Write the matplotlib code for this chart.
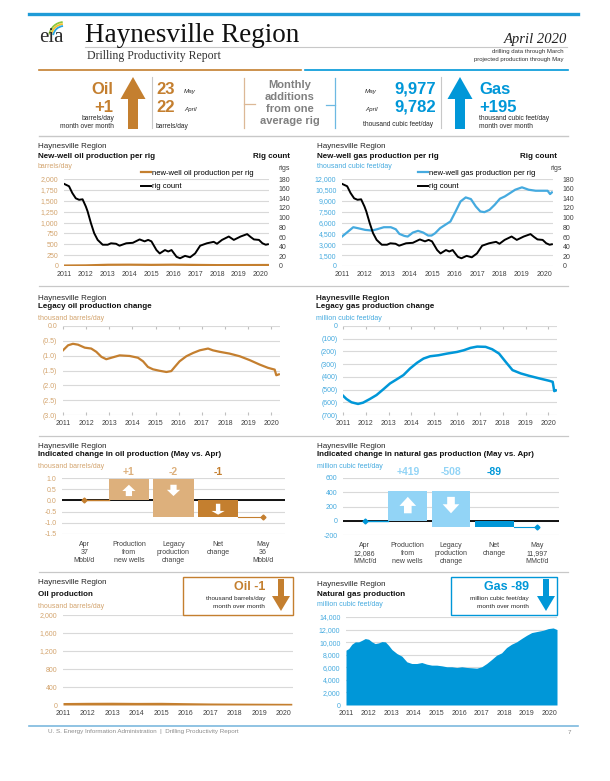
import matplotlib
matplotlib.use('Agg')
import matplotlib.pyplot as plt
from matplotlib.patches import Rectangle, Arc
from matplotlib.lines import Line2D

plt.rcParams['font.family'] = ['Liberation Sans', 'DejaVu Sans']

W, H = 610, 781

# ---------------- data ----------------
years = list(range(2011, 2021))

rig_years = [2011.00, 2011.23, 2011.38, 2011.54, 2011.69, 2011.85, 2012.00, 2012.08, 2012.23, 2012.38,
             2012.54, 2012.77, 2013.00, 2013.15, 2013.38, 2013.54, 2013.85, 2014.15, 2014.46, 2014.69,
             2014.85, 2015.00, 2015.23, 2015.38, 2015.62, 2015.77, 2015.92, 2016.15, 2016.31, 2016.54,
             2016.77, 2017.00, 2017.23, 2017.54, 2017.85, 2018.00, 2018.23, 2018.54, 2018.77, 2019.08,
             2019.38, 2019.54, 2019.69, 2019.92, 2020.08, 2020.23, 2020.33]
rig_count = [170, 165, 151, 140, 137, 138, 123, 113, 89, 68,
             54, 44, 44, 47, 46, 42, 47, 48, 55, 51,
             54, 51, 33, 26, 33, 30, 33, 19, 16, 21,
             18, 26, 42, 47, 50, 46, 54, 61, 54, 61,
             66, 60, 55, 54, 47, 44, 45]

oil_rig_years = [2011.0, 2012.0, 2013.0, 2014.0, 2015.0, 2016.0, 2017.0, 2018.0, 2019.0, 2020.33]
oil_per_rig = [10, 14, 28, 30, 26, 30, 25, 20, 21, 23]

gas_rig_years = [2011.00, 2011.27, 2011.50, 2011.73, 2012.03, 2012.33, 2012.56, 2012.86, 2013.17, 2013.39,
                 2013.55, 2013.77, 2013.92, 2014.15, 2014.38, 2014.61, 2014.83, 2014.98, 2015.14, 2015.36,
                 2015.59, 2015.82, 2016.05, 2016.27, 2016.50, 2016.73, 2016.95, 2017.15, 2017.33, 2017.56,
                 2017.79, 2018.02, 2018.24, 2018.47, 2018.70, 2019.00, 2019.30, 2019.61, 2019.91, 2020.14,
                 2020.25, 2020.33]
gas_per_rig = [4060, 4750, 5350, 5200, 4980, 4890, 5070, 5350, 5350, 5070,
               4430, 4150, 4060, 4610, 4850, 4610, 4200, 4200, 4520, 5215,
               5680, 6140, 7520, 8900, 9460, 9230, 8210, 7520, 7430, 7750,
               8450, 9280, 9600, 10060, 10520, 10850, 10520, 10380, 10380, 10380,
               9920, 10150]

legacy_oil_years = [2011.00, 2011.22, 2011.43, 2011.65, 2011.94, 2012.22, 2012.44, 2012.66, 2012.87, 2013.09,
                    2013.45, 2013.88, 2014.24, 2014.46, 2014.67, 2014.89, 2015.18, 2015.47, 2015.68, 2015.83,
                    2016.04, 2016.33, 2016.62, 2016.91, 2017.27, 2017.48, 2017.77, 2018.20, 2018.64, 2019.07,
                    2019.50, 2019.86, 2020.15, 2020.22, 2020.33]
legacy_oil = [-0.82, -0.65, -0.60, -0.63, -0.73, -0.76, -0.87, -1.04, -1.12, -1.07,
              -0.99, -1.01, -1.07, -1.19, -1.38, -1.46, -1.51, -1.55, -1.52, -1.38,
              -1.19, -1.02, -0.91, -0.82, -0.76, -0.82, -0.87, -0.93, -1.02, -1.15,
              -1.30, -1.41, -1.47, -1.66, -1.63]

legacy_gas_years = [2011.00, 2011.15, 2011.37, 2011.66, 2011.88, 2012.18, 2012.47, 2012.76, 2013.06, 2013.35,
                    2013.65, 2013.94, 2014.24, 2014.53, 2014.82, 2015.19, 2015.56, 2016.00, 2016.29, 2016.59,
                    2016.88, 2017.25, 2017.54, 2017.84, 2018.13, 2018.43, 2018.79, 2019.16, 2019.60, 2020.04,
                    2020.19, 2020.26, 2020.33]
legacy_gas = [-548, -574, -600, -613, -603, -574, -543, -499, -452, -420,
              -386, -334, -290, -256, -238, -230, -217, -204, -191, -172,
              -162, -164, -183, -217, -282, -347, -373, -392, -412, -431,
              -439, -512, -507]

oil_prod_years = [2011.0, 2012.0, 2013.0, 2014.0, 2015.0, 2016.0, 2017.0, 2018.0, 2019.0, 2020.33]
oil_prod = [55, 60, 62, 58, 60, 52, 45, 42, 40, 37]

gas_prod_years = [2011.00, 2011.12, 2011.26, 2011.41, 2011.56, 2011.71, 2011.85, 2012.00, 2012.15, 2012.29,
                  2012.44, 2012.59, 2012.74, 2012.88, 2013.03, 2013.25, 2013.47, 2013.69, 2013.91, 2014.13,
                  2014.35, 2014.57, 2014.79, 2015.01, 2015.24, 2015.46, 2015.68, 2015.90, 2016.12, 2016.34,
                  2016.56, 2016.78, 2017.00, 2017.22, 2017.44, 2017.66, 2017.88, 2018.10, 2018.32, 2018.54,
                  2018.76, 2018.99, 2019.21, 2019.50, 2019.72, 2019.94, 2020.16, 2020.33]
gas_prod = [8720, 8980, 9670, 10040, 10040, 10300, 10570, 10460, 10040, 9770,
            9880, 10090, 10040, 9510, 8820, 8190, 7770, 6870, 6600, 6600,
            6760, 6500, 6340, 6340, 6230, 6080, 6080, 5970, 6080, 5970,
            5920, 5860, 6080, 6600, 7240, 7920, 8290, 9140, 9670, 10040,
            10570, 11090, 11520, 11730, 11890, 12150, 12260, 12000]

oil_wf_labels = ['Apr\n37\nMbbl/d', 'Production\nfrom\nnew wells', 'Legacy\nproduction\nchange',
                 'Net\nchange', 'May\n36\nMbbl/d']
gas_wf_labels = ['Apr\n12,086\nMMcf/d', 'Production\nfrom\nnew wells', 'Legacy\nproduction\nchange',
                 'Net\nchange', 'May\n11,997\nMMcf/d']
oil_new, oil_legacy = 0.97, -1.72
gas_new, gas_legacy = 419, -508

# ---------------- colours ----------------
BROWN = '#c47f2f'
TAN = '#ddb07c'
TAN_TXT = '#d3a46e'
BLUE = '#0097d8'
LBLUE = '#92d4f6'
BLUE_TXT = '#45aadf'
GRID = '#d9d9d9'
DARK = '#404040'

fig = plt.figure(figsize=(W / 100, H / 100), dpi=100)


def px_axes(x0, y0, x1, y1):
    ax = fig.add_axes([x0 / W, 1 - y1 / H, (x1 - x0) / W, (y1 - y0) / H])
    ax.set_facecolor('none')
    for s in ax.spines.values():
        s.set_visible(False)
    ax.grid(axis='y', color=GRID, lw=0.8)
    ax.set_axisbelow(True)
    return ax


def time_axis(ax, xmax=2020.38):
    ax.set_xlim(2011, xmax)
    ax.set_xticks(years)
    ax.set_xticklabels([str(y) for y in years])
    ax.tick_params(axis='x', length=0, labelsize=5, labelcolor=DARK, pad=3.4)


def y_labels(ax, ticks, fmt, color):
    ax.set_yticks(ticks)
    ax.set_yticklabels([fmt(t) for t in ticks])
    ax.tick_params(axis='y', length=0, labelsize=5, labelcolor=color, pad=4)


def paren(v, dec):
    if v == 0:
        return f'{0:.{dec}f}'
    return f'({abs(v):,.{dec}f})'


# ---------- row 1: new-well production per rig ----------
ax = px_axes(64, 179, 269, 266)
time_axis(ax)
ax.set_ylim(0, 2000)
y_labels(ax, range(0, 2001, 250), lambda v: f'{v:,}', TAN_TXT)
l1, = ax.plot(oil_rig_years, oil_per_rig, color=BROWN, lw=1.6)
ax2 = ax.twinx()
ax2.set_ylim(0, 180)
for s in ax2.spines.values():
    s.set_visible(False)
ax2.set_yticks(range(0, 181, 20))
ax2.tick_params(axis='y', length=0, labelsize=5, labelcolor=DARK, pad=7)
l2, = ax2.plot(rig_years, rig_count, color='black', lw=1.4)
ax.legend([l1, l2], ['new-well oil production per rig', 'rig count'], loc='upper left',
          bbox_to_anchor=(137 / W, 1 - 166 / H), bbox_transform=fig.transFigure, frameon=False,
          fontsize=5.5, handlelength=1.3, handletextpad=0.1, borderpad=0, labelspacing=0.75)

ax = px_axes(342, 179, 553, 266)
time_axis(ax)
ax.set_ylim(0, 12000)
y_labels(ax, range(0, 12001, 1500), lambda v: f'{v:,}', BLUE_TXT)
g1, = ax.plot(gas_rig_years, gas_per_rig, color=BLUE_TXT, lw=1.6)
ax2 = ax.twinx()
ax2.set_ylim(0, 180)
for s in ax2.spines.values():
    s.set_visible(False)
ax2.set_yticks(range(0, 181, 20))
ax2.tick_params(axis='y', length=0, labelsize=5, labelcolor=DARK, pad=7)
g2, = ax2.plot(rig_years, rig_count, color='black', lw=1.4)
ax.legend([g1, g2], ['new-well gas production per rig', 'rig count'], loc='upper left',
          bbox_to_anchor=(414 / W, 1 - 166 / H), bbox_transform=fig.transFigure, frameon=False,
          fontsize=5.5, handlelength=1.3, handletextpad=0.1, borderpad=0, labelspacing=0.75)

# ---------- row 2: legacy production change ----------
ax = px_axes(63, 326, 280, 415)
time_axis(ax)
ax.set_ylim(-3, 0)
y_labels(ax, [0, -0.5, -1, -1.5, -2, -2.5, -3], lambda v: paren(v, 1), TAN_TXT)
ax.tick_params(axis='x', top=True, direction='in', length=2, color='#bfbfbf')
ax.plot(legacy_oil_years, legacy_oil, color=BROWN, lw=1.6)

ax = px_axes(343, 326, 557, 415)
time_axis(ax)
ax.set_ylim(-700, 0)
y_labels(ax, range(0, -701, -100), lambda v: paren(v, 0), BLUE_TXT)
ax.tick_params(axis='x', top=True, direction='in', length=2, color='#bfbfbf')
ax.plot(legacy_gas_years, legacy_gas, color=BLUE, lw=1.8)


# ---------- row 3: waterfalls ----------
def waterfall(box, new, legacy, labels, light, dark, ylim, ticks, fmt, tick_col, arrow_sz, net_arrow):
    ax = px_axes(*box)
    net = new + legacy
    ax.set_xlim(-0.5, 4.5)
    ax.set_ylim(*ylim)
    y_labels(ax, ticks, fmt, tick_col)
    ax.set_xticks(range(5))
    ax.set_xticklabels(labels, fontsize=5, color=DARK, linespacing=1.25)
    ax.tick_params(axis='x', length=0, pad=5)
    ax.axhline(0, color='black', lw=1.3, zorder=2)
    ax.bar(1, new, width=0.9, color=light, zorder=3)
    ax.bar(2, legacy, bottom=new, width=0.9, color=light, zorder=3)
    ax.bar(3, net, width=0.9, color=dark, zorder=3)
    ax.plot([0, 0.55], [0, 0], color=dark, lw=1, zorder=4)
    ax.plot([3.45, 4], [net, net], color=dark, lw=0.8, zorder=4)
    ax.plot([0, 4], [0, net], ls='none', marker='D', ms=2.5, color=dark, zorder=5)
    hw, hl, tw, lo_f, hi_f = arrow_sz
    style = f'simple,head_length={hl},head_width={hw},tail_width={tw}'
    ap = dict(arrowstyle=style, color='white', lw=0, shrinkA=0, shrinkB=0, mutation_scale=10)
    lo, hi = new * lo_f, new * hi_f
    ax.annotate('', xy=(1, hi), xytext=(1, lo), arrowprops=ap, zorder=6)
    ax.annotate('', xy=(2, lo), xytext=(2, hi), arrowprops=ap, zorder=6)
    if net_arrow:
        ap2 = dict(ap, arrowstyle=f'simple,head_length={hl * 0.6},head_width={hw},tail_width={tw * 0.7}')
        ax.annotate('', xy=(3, net * 0.85), xytext=(3, net * 0.2), arrowprops=ap2, zorder=6)
    top = ylim[1]
    vals = [new, legacy, net]
    cols = [light, light, dark]
    for i, (v, c) in enumerate(zip(vals, cols)):
        ax.annotate(f'{v:+,.0f}', xy=(i + 1, top), xytext=(0, 4.5), textcoords='offset points',
                    ha='center', va='center', fontsize=7.5, fontweight='bold', color=c,
                    annotation_clip=False)
    return ax


waterfall((62, 478, 285, 534), oil_new, oil_legacy, oil_wf_labels, TAN, BROWN, (-1.5, 1.0),
          [1.0, 0.5, 0.0, -0.5, -1.0, -1.5], lambda v: f'{v:.1f}', TAN_TXT,
          (0.95, 0.45, 0.45, 0.2, 0.72), True)
waterfall((343, 478, 559, 535), gas_new, gas_legacy, gas_wf_labels, LBLUE, BLUE, (-200, 600),
          [600, 400, 200, 0, -200], lambda v: f'{v:,}', BLUE_TXT,
          (1.2, 0.65, 0.55, 0.25, 0.8), False)

# ---------- row 4: production ----------
ax = px_axes(63, 615, 293, 705)
time_axis(ax, 2020.38)
ax.set_ylim(0, 2000)
y_labels(ax, range(0, 2001, 400), lambda v: f'{v:,}', TAN_TXT)
ax.fill_between(oil_prod_years, oil_prod, color=BROWN, lw=0)

ax = px_axes(346, 617, 557, 705)
time_axis(ax, 2020.33)
ax.set_ylim(0, 14000)
y_labels(ax, range(0, 14001, 2000), lambda v: f'{v:,}', BLUE_TXT)
ax.fill_between(gas_prod_years, gas_prod, color=BLUE, lw=0)

# ---------------- overlay: header, titles, boxes ----------------
ov = fig.add_axes([0, 0, 1, 1])
ov.set_xlim(0, W)
ov.set_ylim(H, 0)
ov.axis('off')
ov.patch.set_visible(False)


def hline(y, x0, x1, c, lw):
    ov.add_line(Line2D([x0, x1], [y, y], color=c, lw=lw))


def vline(x, y0, y1, c, lw):
    ov.add_line(Line2D([x, x], [y0, y1], color=c, lw=lw))


def txt(x, y, s, size, c='#262626', ha='left', **kw):
    ov.text(x, y, s, fontsize=size, color=c, ha=ha, va='center', **kw)


hline(14, 29, 578, '#1f9bd7', 2.4)
# logo
txt(39, 37, 'eia', 15, '#2b2b2b', family='Liberation Serif')
for r, c in [(15, '#8cc63e'), (13, '#f6c12d'), (11, '#2ba6de')]:
    ov.add_patch(Arc((64, 37), 2 * r, 2 * r, theta1=190, theta2=265, color=c, lw=1.3))
txt(85, 35, 'Haynesville Region', 19.5, '#111111', family='Liberation Serif')
hline(47, 85, 567, '#c8c8c8', 0.8)
txt(87, 56, 'Drilling Productivity Report', 8.5, '#333333', family='Liberation Serif')
txt(567, 39, 'April 2020', 10.5, '#222222', ha='right', family='Liberation Serif', style='italic')
txt(564, 52, 'drilling data through March', 4.3, '#333333', ha='right')
txt(564, 59, 'projected production through May', 4.3, '#333333', ha='right')

hline(70, 39, 301, BROWN, 1.2)
hline(70, 305, 568, BLUE, 1.2)
hline(136, 39, 568, '#c8c8c8', 1)

# oil block
txt(113, 90, 'Oil', 12, BROWN, ha='right', fontweight='bold')
txt(113, 107, '+1', 12, BROWN, ha='right', fontweight='bold')
txt(114, 118, 'barrels/day', 4.8, ha='right')
txt(114, 126, 'month over month', 4.8, ha='right')
ov.arrow(133, 129, 0, -52, width=10, head_width=25, head_length=22, length_includes_head=True,
         color=BROWN, lw=0)
vline(152, 77, 128, '#c8c8c8', 0.8)
txt(156, 89, '23', 12, BROWN, fontweight='bold')
txt(184, 91, 'May', 4.5, style='italic')
txt(156, 108, '22', 12, BROWN, fontweight='bold')
txt(184, 110, 'April', 4.5, style='italic')
txt(156, 126, 'barrels/day', 4.8)
vline(244, 78, 128, '#dcb896', 0.9)
hline(104, 244, 255, '#dcb896', 0.9)
txt(290, 103, 'Monthly\nadditions\nfrom one\naverage rig', 8, '#808080', ha='center',
    fontweight='bold', linespacing=1.25, multialignment='center')
hline(105, 326, 335, '#6db9e2', 0.9)
vline(335, 78, 128, '#6db9e2', 0.9)
txt(365, 91, 'May', 4.5, style='italic')
txt(436, 89, '9,977', 12, BLUE, ha='right', fontweight='bold')
txt(365, 110, 'April', 4.5, style='italic')
txt(436, 107, '9,782', 12, BLUE, ha='right', fontweight='bold')
txt(398, 124, 'thousand cubic feet/day', 4.8, ha='center')
vline(441, 77, 128, '#c8c8c8', 0.8)
ov.arrow(460, 129, 0, -52, width=10, head_width=25, head_length=22, length_includes_head=True,
         color=BLUE, lw=0)
txt(479, 90, 'Gas', 12, BLUE, fontweight='bold')
txt(479, 107, '+195', 12, BLUE, fontweight='bold')
txt(479, 118, 'thousand cubic feet/day', 4.8)
txt(479, 126, 'month over month', 4.8)

# row separators
for y in (286, 436, 572):
    hline(y, 39, 568, '#c8c8c8', 0.9)


def titles(x, y0, y1, y2, bold, unit, ucol, first_bold=False):
    txt(x, y0, 'Haynesville Region', 5.8, '#262626', fontweight='bold' if first_bold else 'normal')
    txt(x, y1, bold, 5.8, '#111111', fontweight='bold')
    txt(x, y2, unit, 5, ucol)


titles(38, 146, 156, 167, 'New-well oil production per rig', 'barrels/day', TAN_TXT)
txt(290, 156, 'Rig count', 5.8, '#111111', ha='right', fontweight='bold')
txt(290, 168, 'rigs', 5, DARK, ha='right')
titles(317, 146, 156, 167, 'New-well gas production per rig', 'thousand cubic feet/day', BLUE_TXT)
txt(557, 156, 'Rig count', 5.8, '#111111', ha='right', fontweight='bold')
txt(562, 168, 'rigs', 5, DARK, ha='right')

titles(38, 298, 306.5, 318, 'Legacy oil production change', 'thousand barrels/day', TAN_TXT)
titles(316, 298, 306, 318, 'Legacy gas production change', 'million cubic feet/day', BLUE_TXT,
       first_bold=True)

titles(38, 446, 455, 467, 'Indicated change in oil production (May vs. Apr)',
       'thousand barrels/day', TAN_TXT)
titles(317, 446, 455, 467, 'Indicated change in natural gas production (May vs. Apr)',
       'million cubic feet/day', BLUE_TXT)

titles(38, 583, 594, 606, 'Oil production', 'thousand barrels/day', TAN_TXT)
titles(317, 584, 594, 605, 'Natural gas production', 'million cubic feet/day', BLUE_TXT)

# summary boxes
ov.add_patch(Rectangle((183, 577), 110, 38, fill=False, ec=BROWN, lw=1))
txt(265, 587, 'Oil -1', 9, BROWN, ha='right', fontweight='bold')
txt(265, 598.5, 'thousand barrels/day', 4.6, ha='right')
txt(265, 606, 'month over month', 4.6, ha='right')
ov.arrow(281, 579, 0, 32, width=6, head_width=18, head_length=15, length_includes_head=True,
         color=BROWN, lw=0)
ov.add_patch(Rectangle((451, 577), 106, 38, fill=False, ec=BLUE, lw=1))
txt(529, 587, 'Gas -89', 9, BLUE, ha='right', fontweight='bold')
txt(529, 598.5, 'million cubic feet/day', 4.6, ha='right')
txt(529, 606, 'month over month', 4.6, ha='right')
ov.arrow(546, 579, 0, 32, width=6, head_width=18, head_length=15, length_includes_head=True,
         color=BLUE, lw=0)

# footer
hline(726, 29, 578, '#7db9de', 1.2)
txt(48, 732, 'U. S. Energy Information Administration  |  Drilling Productivity Report', 4.5, '#8c8c8c')
txt(571, 732, '7', 4.5, '#8c8c8c', ha='right')

fig.savefig('out.png', dpi=100)
